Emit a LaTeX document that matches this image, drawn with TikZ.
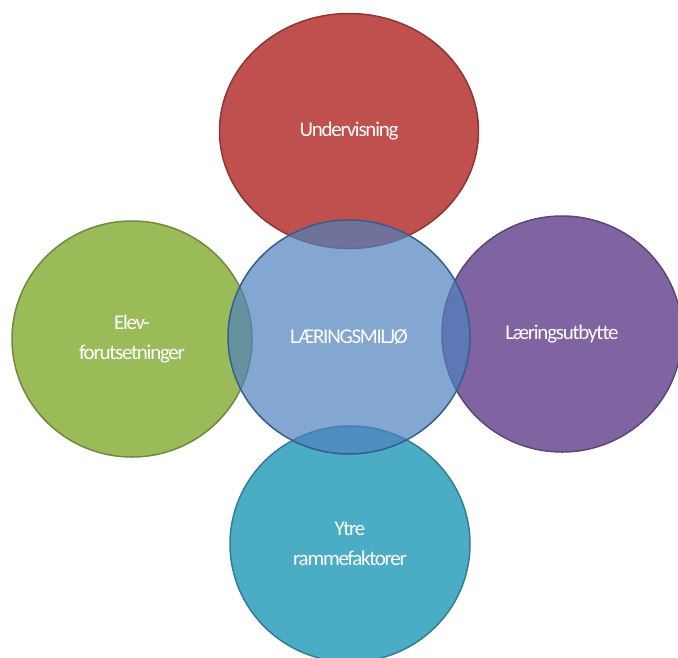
\documentclass[tikz,border=0pt]{standalone}
\usepackage{fontspec}
\setmainfont{Carlito}
\newfontfamily\bubblefont[LetterSpace=-6]{Carlito}
\usetikzlibrary{positioning, shapes.geometric}
\definecolor{redfill}{HTML}{C0504D}
\definecolor{redstroke}{HTML}{8C3836}
\definecolor{greenfill}{HTML}{9BBB59}
\definecolor{greenstroke}{HTML}{71893F}
\definecolor{purplefill}{HTML}{8064A2}
\definecolor{purplestroke}{HTML}{5C4776}
\definecolor{tealfill}{HTML}{4BACC6}
\definecolor{tealstroke}{HTML}{357D91}
\definecolor{bluefill}{HTML}{4F81BD}
\definecolor{bluestroke}{HTML}{385D8A}

\begin{document}
\begin{tikzpicture}[
  x=1pt, y=-1pt,
  every node/.style={font=\bubblefont\fontsize{21}{30}\selectfont, text=white},
  bubble/.style={
    ellipse, line width=1.5pt, align=center,
    minimum width=240pt, minimum height=236pt, inner sep=0pt
  }
]
\useasboundingbox (0,0) rectangle (678,657);
\clip (0,0) rectangle (678,657);

% Outer circles
\node[bubble, draw=redstroke, fill=redfill, minimum width=259pt, minimum height=235pt]
  (undervisning) at (349,131) {Undervisning};
\node[bubble, draw=greenstroke, fill=greenfill] (elev) at (132,339) {Elev-\\forutsetninger};
\node[bubble, draw=purplestroke, fill=purplefill] (utbytte) at (562,334) {Læringsutbytte};
\node[bubble, draw=tealstroke, fill=tealfill] (ytre) at (350,544) {Ytre\\rammefaktorer};

% Centre
\node[bubble, draw=bluestroke, fill=bluefill, fill opacity=0.7, text opacity=1,
  minimum width=242pt, minimum height=234pt] (miljo) at (349,337) {LÆRINGSMILJØ};

\end{tikzpicture}
\end{document}
